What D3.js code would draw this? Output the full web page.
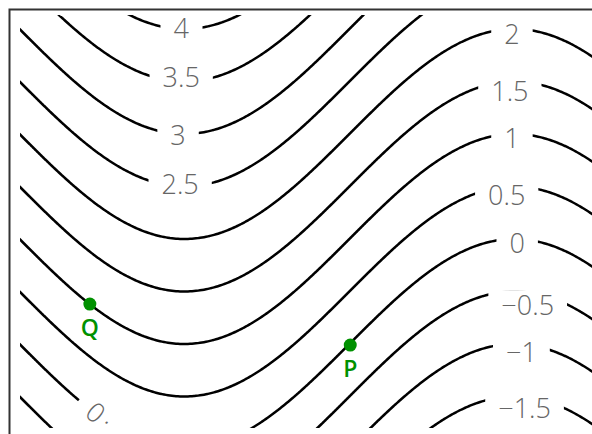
<!DOCTYPE html>
<html>
<head>
<meta charset="utf-8">
<script src="https://cdn.jsdelivr.net/npm/d3@7"></script>
<style>
  body { margin: 0; background: #fff; }
  svg { display: block; }
</style>
</head>
<body>
<svg id="drawing_region"></svg>
<script>
// contour levels of f(x, y) = y + sin(x)
const levels = [-1.5, -1, -0.5, 0, 0.5, 1, 1.5, 2, 2.5, 3, 3.5, 4];

// inline contour labels (text, anchor in data units, rotation)
const labelText = ["4", "3.5", "3", "2.5", "2", "1.5", "1", "0.5", "0", "\u22120.5", "\u22121", "\u22121.5", "0."];
const labelX    = [1.54, 1.54, 1.51, 1.53, 4.69, 4.67, 4.69, 4.64, 4.74, 4.84, 4.78, 4.81, 0.668];
const labelY    = [3.01, 2.54, 1.99, 1.52, 2.95, 2.41, 1.96, 1.42, 0.96, 0.37, -0.08, -0.61, -0.605];
const labelRot  = [0, 0, 0, 0, 0, 0, 0, 0, 0, 0, 0, 0, 40];

// marked points
const pointNames = ["Q", "P"];
const pointX = [0.67, 3.15];
const pointY = [0.38, -0.01];

const f = (x, y) => y + Math.sin(x);

const config = {
    parent: '#drawing_region',
    width: 592,
    height: 434,
    frame: {left: 9.5, top: 9.5},
    plot: {left: 20, top: 15, bottom: 428}
};

const svg = d3.select(config.parent)
    .attr('width', config.width)
    .attr('height', config.height);

const xscale = d3.scaleLinear().domain([-0.1, 5.5]).range([9, 597]);
const yscale = d3.scaleLinear().domain([-0.9, 3.2]).range([438.5, 8]);

svg.append('defs').append('clipPath').attr('id', 'plotclip')
  .append('rect')
    .attr('x', config.plot.left).attr('y', config.plot.top)
    .attr('width', config.width)
    .attr('height', config.plot.bottom - config.plot.top);

// sample f on a grid a bit larger than the visible area
const step = 2, gx0 = -20, gy0 = -20;
const nx = Math.ceil((config.width + 40) / step) + 1;
const ny = Math.ceil((config.height + 40) / step) + 1;
const grid = new Array(nx * ny);
for (let j = 0; j < ny; j++) {
    for (let i = 0; i < nx; i++) {
        grid[j * nx + i] = f(xscale.invert(gx0 + i * step), yscale.invert(gy0 + j * step));
    }
}

const contours = d3.contours().size([nx, ny]).thresholds(levels)(grid);
const path = d3.geoPath(d3.geoIdentity()
    .scale(step)
    .translate([gx0 - 0.5 * step, gy0 - 0.5 * step]));

const plot = svg.append('g').attr('clip-path', 'url(#plotclip)');

plot.selectAll('path.contour')
    .data(contours)
    .join('path')
    .attr('class', 'contour')
    .attr('d', path)
    .attr('fill', 'none')
    .attr('stroke', '#000')
    .attr('stroke-width', 2.5);

// labels with a white gap in the line
const labels = svg.append('g').selectAll('g.label')
    .data(labelText.map((t, i) => ({ t, x: labelX[i], y: labelY[i], r: labelRot[i] })))
    .join('g')
    .attr('class', 'label')
    .attr('transform', d => `translate(${xscale(d.x)},${yscale(d.y)}) rotate(${d.r})`);

labels.append('text')
    .attr('text-anchor', d => d.r ? 'start' : 'middle')
    .attr('dy', '0.36em')
    .attr('font-family', '"Open Sans", "DejaVu Sans", sans-serif')
    .attr('font-weight', 300)
    .attr('font-size', '27px')
    .attr('fill', '#666')
    .each(function(d) {
        const t = d3.select(this);
        if (!d.r) { t.text(d.t); return; }
        // the rotated label sits loosely, its dot raised off the baseline
        t.text(d.t.slice(0, -1));
        t.append('tspan').attr('dx', 4).attr('dy', -8).text(d.t.slice(-1));
    });

labels.each(function() {
    const g = d3.select(this);
    const bb = g.select('text').node().getBBox();
    g.insert('rect', 'text')
        .attr('x', bb.x - 13)
        .attr('y', -15)
        .attr('width', bb.width + 26)
        .attr('height', 30)
        .attr('fill', '#fff');
});

// frame
svg.append('rect')
    .attr('x', config.frame.left).attr('y', config.frame.top)
    .attr('width', config.width).attr('height', config.height)
    .attr('fill', 'none')
    .attr('stroke', '#333')
    .attr('stroke-width', 2);

// points P and Q
const pts = svg.selectAll('g.pt')
    .data(pointNames.map((n, i) => ({ n, x: pointX[i], y: pointY[i] })))
    .join('g')
    .attr('class', 'pt')
    .attr('transform', d => `translate(${xscale(d.x)},${yscale(d.y)})`);

pts.append('circle')
    .attr('r', 6.5)
    .attr('fill', '#009100');

pts.append('text')
    .attr('y', 24)
    .attr('dy', '0.36em')
    .attr('text-anchor', 'middle')
    .attr('font-family', '"Open Sans", "DejaVu Sans", sans-serif')
    .attr('font-size', '23px')
    .attr('font-weight', 600)
    .attr('fill', '#009100')
    .text(d => d.n);
</script>
</body>
</html>
